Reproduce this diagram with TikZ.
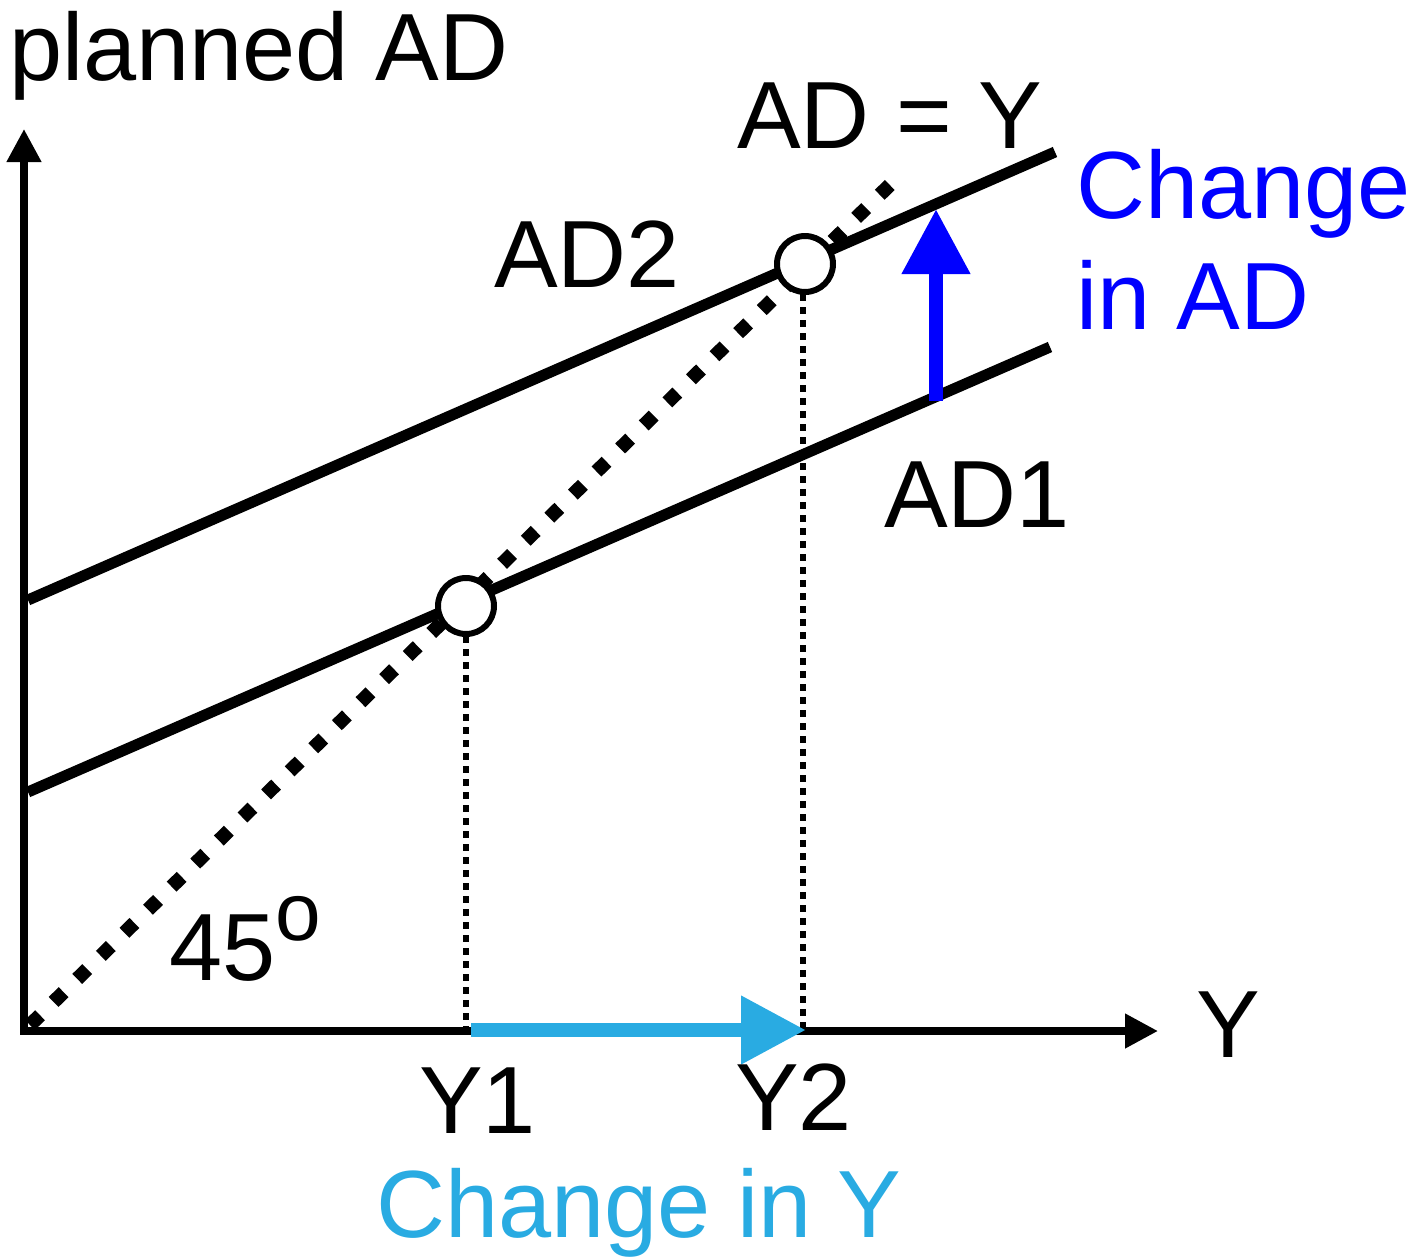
\documentclass[tikz,border=0pt]{standalone}
\usepackage{fontspec}
\setmainfont{Liberation Sans}
\usetikzlibrary{arrows.meta}
\definecolor{adblue}{RGB}{0,0,255}
\definecolor{ycyan}{RGB}{41,171,226}
\begin{document}
\begin{tikzpicture}[x=1pt,y=-1pt,
  lbl/.style={inner sep=0pt,anchor=base west,font=\fontsize{95.5}{112}\selectfont},
  axis/.style={line width=7.5pt,-{Triangle[length=33pt,width=33pt]}},
  adline/.style={line width=11pt},
  diag/.style={line width=14pt,dash pattern=on 14pt off 19pt},
  vdot/.style={line width=6pt,dash pattern=on 7pt off 6pt},
  eq/.style={circle,draw,fill=white,line width=6pt,minimum size=56pt,inner sep=0pt},
  shiftarrow/.style={line width=14pt,-{Triangle[length=65pt,width=65pt]}}]
\useasboundingbox (0,0) rectangle (1428,1259);
% coordinates
\coordinate (O) at (24,1031);
\coordinate (ytip) at (24,129);
\coordinate (xtip) at (1158,1031);
\coordinate (ad1s) at (28,792);
\coordinate (ad1e) at (1050,347);
\coordinate (ad2s) at (28,600);
\coordinate (ad2e) at (1055,152);
\coordinate (ds) at (30,1025);
\coordinate (de) at (900,175);
\coordinate (y1b) at (466,1031);
\coordinate (y2b) at (803,1031);
\coordinate (cyS) at (471,1030);
\coordinate (cyE) at (806,1030);
\coordinate (bS) at (936,401);
\coordinate (bE) at (936,209);
% lines
\draw[adline] (ad1s) -- (ad1e);
\draw[adline] (ad2s) -- (ad2e);
\draw[diag] (ds) -- (de);
\draw[vdot] (466,636) -- (y1b);
\draw[vdot] (803,294) -- (y2b);
% axes
\draw[axis] (O) -- (ytip);
\draw[axis] ([xshift=-3.75pt]O) -- (xtip);
% equilibrium points
\node[eq] (e1) at (466,606) {};
\node[eq] (e2) at (805,264) {};
% shifts
\draw[shiftarrow,adblue] (bS) -- (bE);
\draw[shiftarrow,ycyan] (cyS) -- (cyE);
% labels
\node[lbl] (tplanned) at (9,80) {planned AD};
\node[lbl] (tady) at (737,148) {AD = Y};
\node[lbl] (tad2) at (494,287) {AD2};
\node[lbl] (tad1) at (884,527) {AD1};
\node[lbl,text=adblue] (tch1) at (1076,218) {Change};
\node[lbl,text=adblue] (tch2) at (1076,329) {in AD};
\node[lbl] (t45) at (169,980) {45\raisebox{40pt}{\fontsize{82}{90}\selectfont o}};
\node[lbl] (ty) at (1196,1057) {Y};
\node[lbl] (ty1) at (419,1133) {Y1};
\node[lbl] (ty2) at (735,1130) {Y2};
\node[lbl,text=ycyan] (tchy) at (376,1237) {Change in Y};
\end{tikzpicture}
\end{document}
